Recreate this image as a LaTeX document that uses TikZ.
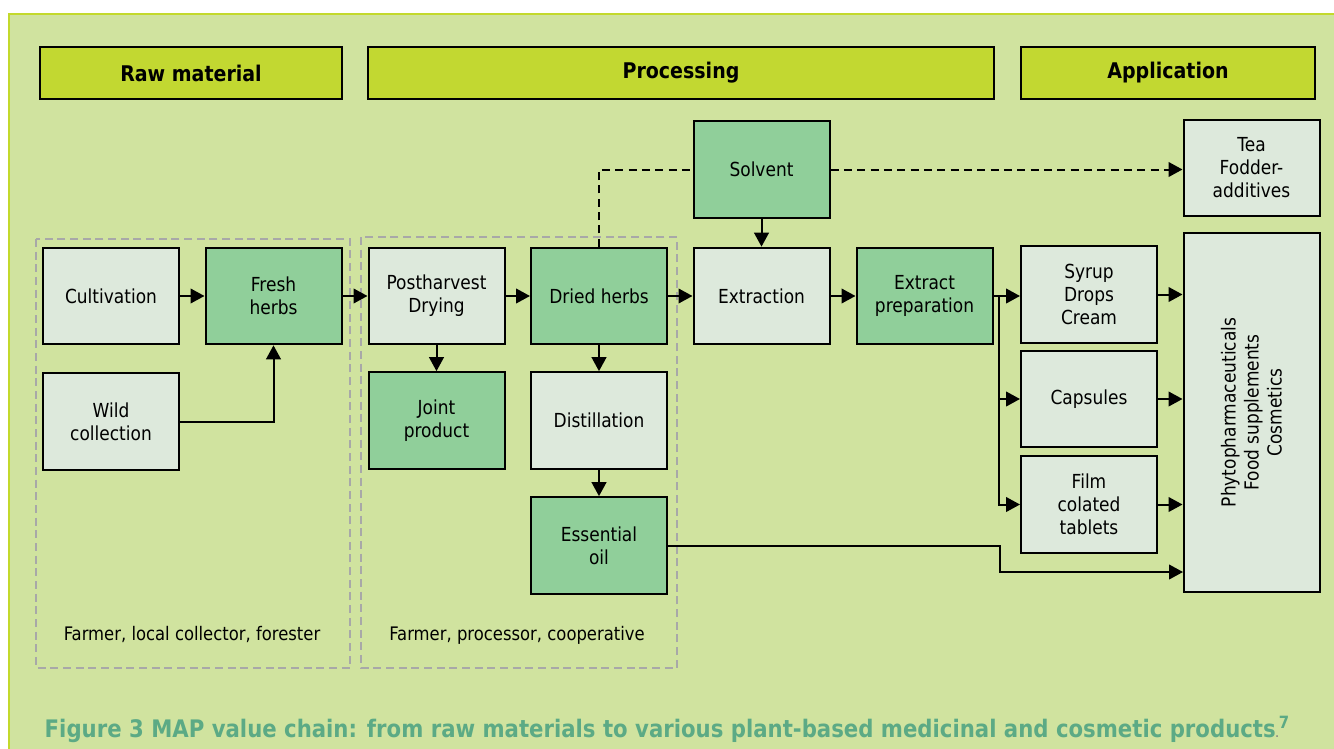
\documentclass[tikz,border=0pt]{standalone}
\usepackage{fontspec}
\setmainfont{DejaVu Sans}[FakeStretch=0.88]
\usetikzlibrary{arrows.meta, positioning}

\definecolor{panelgreen}{HTML}{D0E39F}
\definecolor{panelline}{HTML}{C3D92C}
\definecolor{headfill}{HTML}{C2D831}
\definecolor{herbgreen}{HTML}{90CF9A}
\definecolor{palebox}{HTML}{DDE9DC}
\definecolor{groupgray}{HTML}{A8A8A8}
\definecolor{captiongreen}{HTML}{5CAA85}

\begin{document}
\begin{tikzpicture}[x=0.75pt, y=-0.75pt, font=\fontsize{14.5}{17.25}\selectfont,
  box/.style={draw, line width=1.5pt, align=center, minimum width=102pt, minimum height=72.5pt, inner sep=2pt},
  pbox/.style={box, fill=palebox},
  gbox/.style={box, fill=herbgreen},
  hbox/.style={draw, line width=1.5pt, fill=headfill, minimum height=38.5pt, font=\fontsize{16.2}{18}\selectfont\bfseries},
  group/.style={draw=groupgray, line width=1.5pt, dash pattern=on 6pt off 3.5pt},
  arr/.style={-{Triangle[length=10.5pt,width=11pt]}, line width=1.5pt},
  darr/.style={arr, dash pattern=on 6pt off 4pt}]
\useasboundingbox (0,0) rectangle (1334,749);
% panel
\fill[panelgreen] (9,14) rectangle (1334,749);
\draw[panelline, line width=1.5pt] (9,749) -- (9,14) -- (1334,14);
% stage headers
\node[hbox, minimum width=226pt] (hraw) at (191,73) {Raw material};
\node[hbox, minimum width=469pt] (hproc) at (681,73) {Processing};
\node[hbox, minimum width=221pt] (happ) at (1168,73) {Application};
% actor groups
\draw[group] (36,239) rectangle (350,668);
\draw[group] (361,237) rectangle (677,668);
\node[font=\fontsize{14}{17}\selectfont] (rawactors) at (192,634) {Farmer, local collector, forester};
\node[font=\fontsize{14}{17}\selectfont] (procactors) at (517,635) {Farmer, processor, cooperative};
% raw material
\node[pbox] (cult) at (111,296) {Cultivation};
\node[gbox] (fresh) at (273.5,296) {Fresh\\herbs};
\node[pbox] (wild) at (111,421.5) {Wild\\collection};
% processing
\node[pbox] (post) at (436.5,296) {Postharvest\\Drying};
\node[gbox] (dried) at (599,296) {Dried herbs};
\node[gbox] (joint) at (436.5,420.5) {Joint\\product};
\node[pbox] (distil) at (599,420.5) {Distillation};
\node[gbox] (oil) at (599,545.5) {Essential\\oil};
\node[gbox] (solvent) at (761.5,169.5) {Solvent};
\node[pbox] (extract) at (761.5,296) {Extraction};
\node[gbox] (prep) at (924.5,296) {Extract\\preparation};
% application
\node[pbox] (syrup) at (1089,294.5) {Syrup\\Drops\\Cream};
\node[pbox] (caps) at (1089,399) {Capsules};
\node[pbox] (film) at (1089,504.5) {Film\\colated\\tablets};
\node[pbox] (tea) at (1251.5,168) {Tea\\Fodder-\\additives};
% rotated box: its north side is the left edge
\node[pbox, rotate=90, minimum width=269pt, minimum height=102pt] (phyto) at (1251.5,412.5) {Phytopharmaceuticals\\Food supplements\\Cosmetics};
\coordinate (split) at (999,296);
\coordinate (oilbend) at (1000,545.5);
\coordinate (phytoin) at (1183,572);
% connectors
\draw[arr] (cult) -- (fresh);
\draw[arr] (wild.east) -| (fresh.south);
\draw[arr] (fresh) -- (post);
\draw[arr] (post) -- (dried);
\draw[arr] (dried) -- (extract);
\draw[arr] (extract) -- (prep);
\draw[arr] (post) -- (joint);
\draw[arr] (dried) -- (distil);
\draw[arr] (distil) -- (oil);
\draw[arr] (solvent) -- (extract);
\draw[arr] (prep.east) -- (prep.east -| syrup.west);
\draw[arr] (split) |- (caps.west);
\draw[arr] (split) |- (film.west);
\draw[arr] (syrup.east) -- (syrup.east -| phyto.north);
\draw[arr] (caps.east) -- (caps.east -| phyto.north);
\draw[arr] (film.east) -- (film.east -| phyto.north);
\draw[arr] (oil.east) -- (oilbend) |- (phytoin);
\draw[dash pattern=on 6pt off 4pt, line width=1.5pt] (dried.north) |- (solvent.west);
\draw[darr] (solvent.east) -- (solvent.east -| tea.west);
% caption
\node[anchor=base west, text=captiongreen, font=\fontsize{18.1}{20}\selectfont\bfseries] (caption) at (40,737)
  {Figure 3 MAP value chain: from raw materials to various plant-based medicinal and cosmetic products{\color{gray}\fontsize{7}{7}\selectfont.}\textsuperscript{7}};
\end{tikzpicture}
\end{document}
